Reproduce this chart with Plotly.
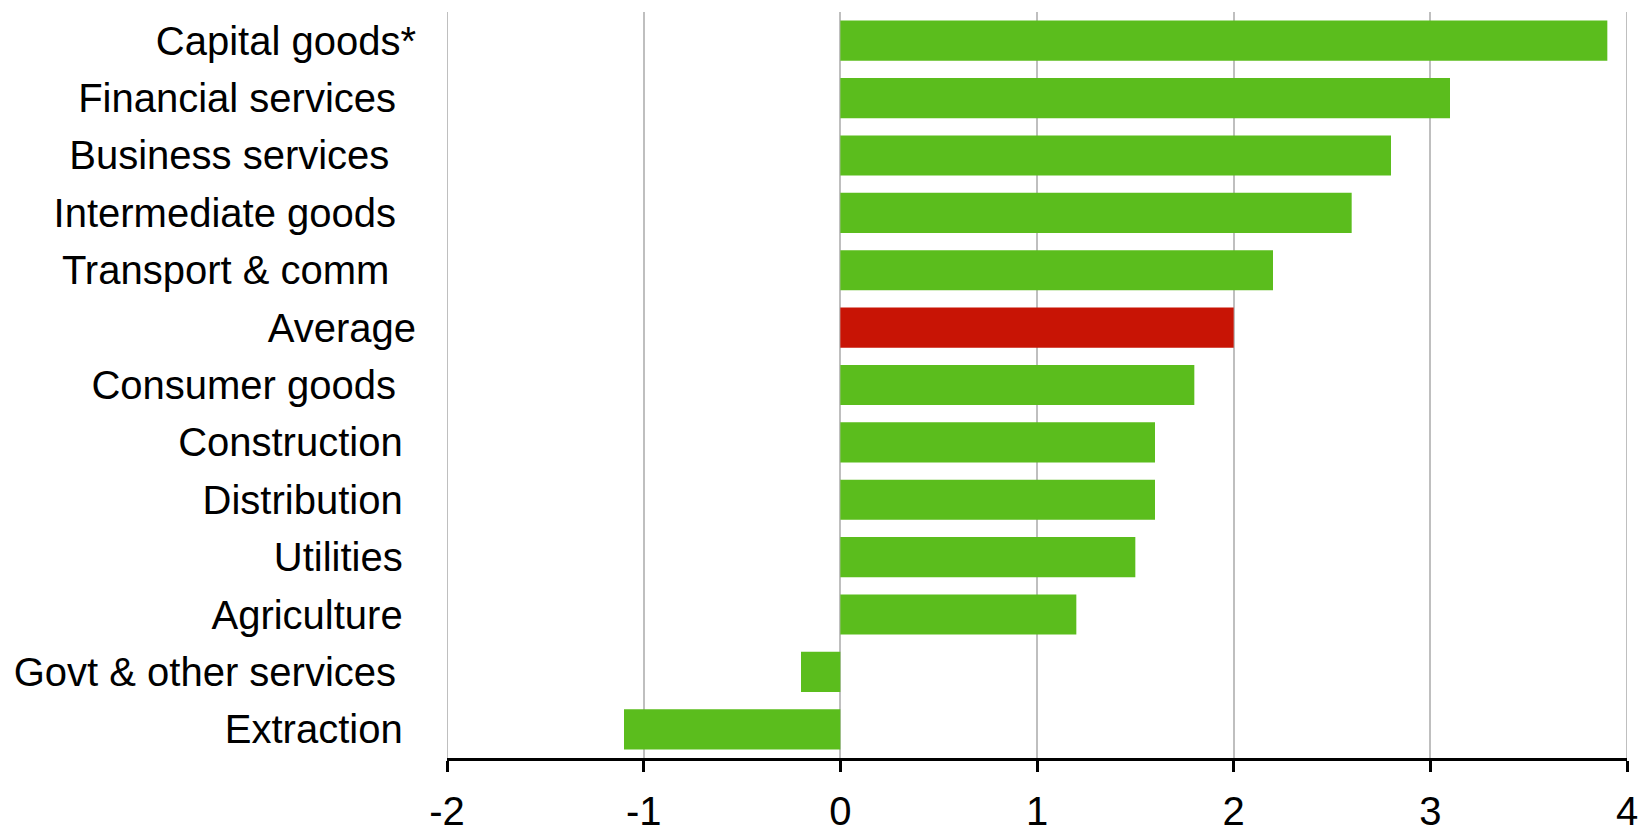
import plotly.graph_objects as go

# Sectors, listed top to bottom
sectors = [
    "Capital goods*",
    "Financial services",
    "Business services",
    "Intermediate goods",
    "Transport & comm",
    "Average",
    "Consumer goods",
    "Construction",
    "Distribution",
    "Utilities",
    "Agriculture",
    "Govt & other services",
    "Extraction",
]
growth = [3.9, 3.1, 2.8, 2.6, 2.2, 2.0, 1.8, 1.6, 1.6, 1.5, 1.2, -0.2, -1.1]

x_ticks = [-2, -1, 0, 1, 2, 3, 4]

GREEN = "#5BBD1D"
RED = "#C81405"
GRID = "#BFBFBF"
FONT = "Liberation Sans, Arial, sans-serif"

# trailing padding (six-per-em spaces) so the labels sit as in the original layout
pad_counts = {
    "Capital goods*": 0, "Financial services": 3, "Business services": 4,
    "Intermediate goods": 3, "Transport & comm": 4, "Average": 0,
    "Consumer goods": 3, "Construction": 2, "Distribution": 2,
    "Utilities": 2, "Agriculture": 2, "Govt & other services": 3,
    "Extraction": 2,
}
tick_text = [s + "\u2006" * pad_counts[s] for s in sectors]
colors = [RED if s == "Average" else GREEN for s in sectors]

fig = go.Figure(
    go.Bar(
        x=growth,
        y=sectors,
        orientation="h",
        marker=dict(color=colors, line=dict(width=0)),
        hoverinfo="x+y",
    )
)

fig.update_layout(
    width=1643,
    height=835,
    margin=dict(l=447, r=16, t=12, b=77),
    paper_bgcolor="white",
    plot_bgcolor="white",
    bargap=0.3,
    showlegend=False,
    font=dict(family=FONT, size=40, color="black"),
)

fig.update_xaxes(
    range=[x_ticks[0], x_ticks[-1]],
    automargin=False,
    tickmode="array",
    tickvals=x_ticks,
    ticktext=[str(v) for v in x_ticks],
    showgrid=True,
    gridcolor=GRID,
    gridwidth=2,
    zeroline=False,
    showline=True,
    linecolor="black",
    linewidth=3,
    ticks="outside",
    ticklen=11,
    tickwidth=3,
    tickcolor="black",
    tickfont=dict(family=FONT, size=40, color="black"),
    ticklabelstandoff=5,
)

# plotly skips gridlines sitting on the range ends, so draw those two here
for xv in (x_ticks[0], x_ticks[-1]):
    fig.add_shape(
        type="line", xref="x", yref="paper",
        x0=xv, x1=xv, y0=0, y1=1,
        line=dict(color=GRID, width=2), layer="below",
    )

fig.update_yaxes(
    autorange="reversed",
    automargin=False,
    tickmode="array",
    tickvals=sectors,
    ticktext=tick_text,
    showgrid=False,
    showline=False,
    ticks="",
    tickfont=dict(family=FONT, size=40, color="black"),
    ticklabelstandoff=30,
)

fig.write_html("out.html")
